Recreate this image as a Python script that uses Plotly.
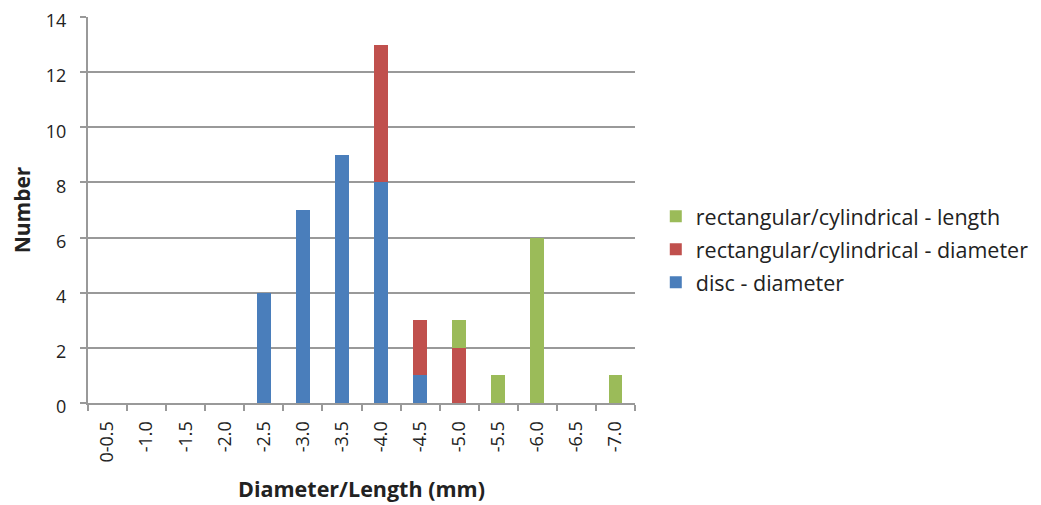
import plotly.graph_objects as go

categories = ["0-0.5", "-1.0", "-1.5", "-2.0", "-2.5", "-3.0", "-3.5", "-4.0",
              "-4.5", "-5.0", "-5.5", "-6.0", "-6.5", "-7.0"]
disc_diameter = [0, 0, 0, 0, 4, 7, 9, 8, 1, 0, 0, 0, 0, 0]
rect_diameter = [0, 0, 0, 0, 0, 0, 0, 5, 2, 2, 0, 0, 0, 0]
rect_length = [0, 0, 0, 0, 0, 0, 0, 0, 0, 1, 1, 6, 0, 1]

FONT = "Open Sans, Lato, sans-serif"

fig = go.Figure()
fig.add_trace(go.Bar(x=categories, y=disc_diameter, name="disc - diameter",
                     marker=dict(color="#4A7EBB", line=dict(width=0)),
                     legendgroup="a", legendrank=3))
fig.add_trace(go.Bar(x=categories, y=rect_diameter, name="rectangular/cylindrical - diameter",
                     marker=dict(color="#C0504D", line=dict(width=0)),
                     legendgroup="b", legendrank=2))
fig.add_trace(go.Bar(x=categories, y=rect_length, name="rectangular/cylindrical - length",
                     marker=dict(color="#9BBB59", line=dict(width=0)),
                     legendgroup="c", legendrank=1))

# page body has an 8px margin, so margins are offset by 8px
fig.update_layout(
    width=1041, height=505,
    barmode="stack", bargap=0.65,
    plot_bgcolor="white", paper_bgcolor="white",
    margin=dict(l=80, r=414, t=9, b=110),
    font=dict(family=FONT, size=18, color="#222"),
    legend=dict(x=1.038, y=0.398, xanchor="left", yanchor="middle",
                traceorder="grouped", tracegroupgap=2,
                font=dict(size=21.5, color="#222")),
    xaxis=dict(
        type="category", tickangle=-90, showgrid=False, automargin=False,
        showline=True, linecolor="#999", linewidth=2,
        ticks="outside", tickson="boundaries", ticklen=6, tickcolor="#999", tickwidth=2,
        tickfont=dict(size=18, color="#222"), ticklabelstandoff=9,
        title=dict(text="<b>Diameter/Length (mm)</b>", font=dict(size=21.5), standoff=20),
    ),
    yaxis=dict(
        range=[0, 14], dtick=2, showgrid=True, gridcolor="#999", gridwidth=2,
        showline=True, linecolor="#999", linewidth=2, automargin=False,
        ticks="outside", ticklen=6, tickcolor="#999", tickwidth=2,
        tickfont=dict(size=18, color="#222"), zeroline=False, ticklabelstandoff=10,
        ticklabelshift=4, ticklabeloverflow="allow",
        title=dict(text="<b>Number</b>", font=dict(size=21), standoff=26),
    ),
)

fig.write_html("out.html", config={"displayModeBar": False})
